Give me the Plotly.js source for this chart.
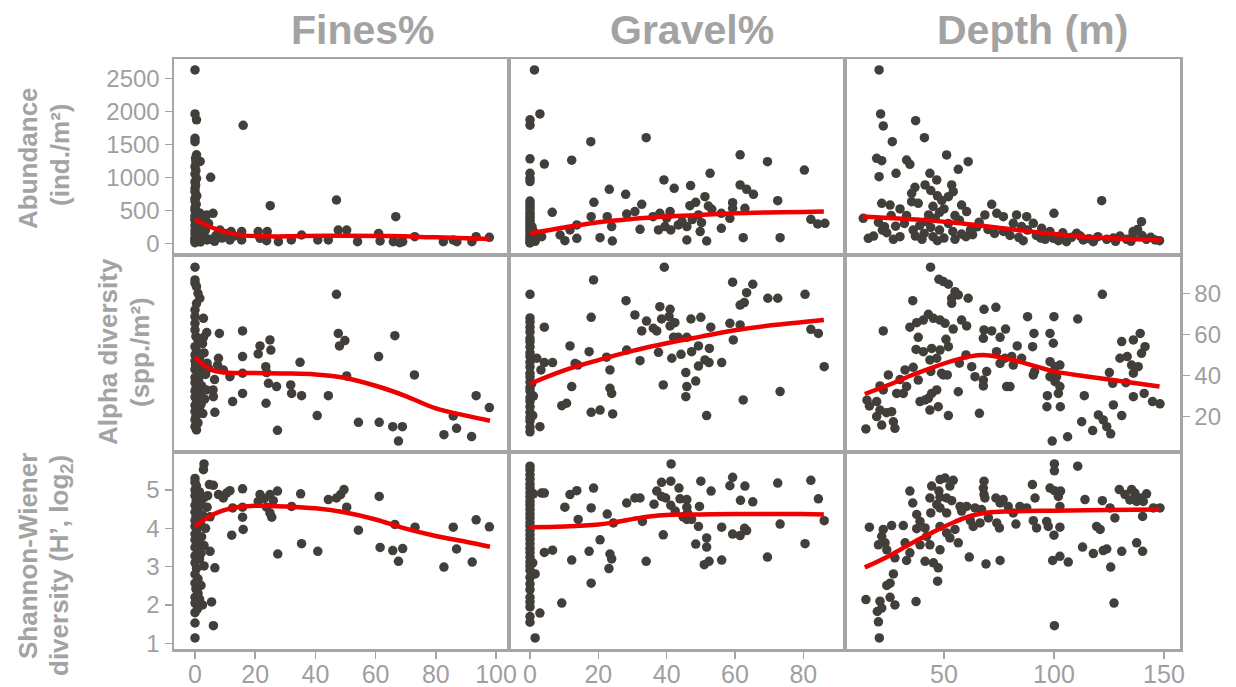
<!DOCTYPE html>
<html>
<head>
<meta charset="utf-8">
<script src="https://cdn.plot.ly/plotly-3.0.1.min.js"></script>
<style>html,body{margin:0;padding:0;background:#fff;}#chart{width:1236px;height:687px;}</style>
</head>
<body>
<div id="chart"></div>
<script>
// ---------- column / row labels ----------
const colTitles = ["Fines%", "Gravel%", "Depth (m)"];
const rowTitles = [
  ["Abundance", "(ind./m²)"],
  ["Alpha diversity", "(spp./m²)"],
  ["Shannon-Wiener", "diversity (H’, log<sub>2</sub>)"]
];
const xTicks = [[0,20,40,60,80,100],[0,20,40,60,80],[50,100,150]];
const yTicksAbund = [0,500,1000,1500,2000,2500];
const yTicksAlpha = [20,40,60,80];
const yTicksShannon = [1,2,3,4,5];

// ---------- Panel 1: Fines% vs Abundance ----------
const finesAbundX = [0,0,0.5,16,0,0,0.5,0.3,1.7,5.2, 6,3.9,25,47,66.7,8.3,12,15.5,11.6,15.5,
  21,21.6,24,23.8,27.7,32,35.4,40.8,44.3,47.6, 50.4,54,61,61.5,65.9,68,69,73,82.5,85.8,
  87,92,93.4,97.8,7,9,5,10,13,4.5,
  0,0.3,0,0.5,0,0.2,0,0,0.6,0, 0,0.4,1.5,0,0,0.8,0,0,1.2,0,
  0.5,2,0,0.3,1,0,2.5,0,1.5,0.5, 3,0,1,2,0,0.7,3.5,0,2.8,0, 1.8,0.2,4,6.5,3];
const finesAbundY = [2626,1960,1870,1788,1590,1540,1340,1240,1240,1000, 455,430,570,656,404,200,177,177,50,50,
  177,76,177,40,25,50,126,50,50,200, 200,25,150,35,25,10,25,100,25,50,
  25,25,100,90,120,80,60,150,110,300,
  1160,1100,1050,980,930,880,830,780,720,680, 640,590,460,540,500,450,420,380,330,350,
  300,280,270,250,230,200,170,150,130,110, 120,90,80,60,60,40,200,30,90,10, 20,1290,50,30,350];

// ---------- Panel 2: Gravel% vs Abundance ----------
const gravelAbundX = [1.3,2.9,0,0,17.8,34,0,4.2,12.2,0, 0,0,61.5,69.5,80.3,52.7,39.2,42.2,47,23.2,
  28,61.5,63.4,65.4,51.2,48.5,46.8,18.7,32.7,52.2, 53.2,59.3,59.3,62.9,72.5,6.5,17.9,22.6,28.3,30.7,
  36,38,41,49.3,56,58.5,13.7,23.9,32.2,37.6, 39.5,41.2,43.4,45.9,50.2,49.8,56,45.9,51.7,62.4,
  73.2,82.2,84.2,86.3,8.8,10.2,13.7,20.5,24.1,11.7, 2.4,3.4,44.5,40,47.5,
  0,0,0,0,0,0,0,0,0,0, 0,0,0,0,0,0,0,0,0.6,1, 0.5,1.5,0.8];
const gravelAbundY = [2626,1960,1870,1790,1540,1600,1280,1200,1260,1060, 985,935,1340,1237,1110,1060,960,833,874,818,
  742,884,818,742,707,621,570,621,590,565, 515,616,530,530,646,470,404,404,444,480,
  404,455,480,430,455,379,278,253,212,202, 253,202,278,253,313,177,227,50,35,86,
  86,364,293,303,126,40,76,86,35,202, 126,100,330,380,360,
  640,600,555,520,470,430,395,350,310,280, 240,205,170,130,95,60,25,5,250,180, 60,30,110];

// ---------- Panel 3: Depth vs Abundance ----------
const depthAbundX = [20.5,21.2,22.4,37.1,26.5,41.1,19.4,21.7,33,34.5, 51.2,61,56.5,20.5,28.2,43.6,46.7,36.8,35.3,41.4,
  53.5,54.2,52,21.7,25.5,35.3,38.3,58,60.3,71.7, 100,121.7,13.3,20.2,15.6,68.6,74,77,83,87.6,
  81.5,85.3,90.6,94.4,98.2,99.7,102.7,105.7,110.3,113.3, 117.9,
  44,47,49,45,50,48,43,55,57,46, 42,52,39,44,48,54,58,41,37,45,
  50,55,47,40,60,62,65,63,30,27, 24,22,18,28,32,36,33,30,26,23,
  66,70,73,77,80,84,88,92,96,102, 108,112,116,120,124,127,130,133,136,138,
  140,142,144,146,148,128,135,104,94,86, 139.8,136];
const depthAbundY = [2626,1960,1778,1858,1540,1600,1288,1252,1262,1197, 1338,1237,1121,1010,1060,1060,960,848,757,884,
  884,782,707,606,580,631,606,580,480,590, 454,646,379,318,76,430,455,404,430,404,
  303,253,303,227,177,76,100,25,151,50, 25,
  800,720,650,560,520,470,430,420,350,380, 330,300,270,240,200,180,140,150,110,100,
  80,60,40,60,100,200,250,130,100,60, 160,200,110,260,300,200,420,520,420,250,
  320,210,150,180,120,90,200,120,60,40, 90,110,70,100,60,80,110,60,140,210,
  120,60,90,50,40,30,30,160,80,40, 328,177];

// ---------- Panel 4: Fines% vs Alpha diversity ----------
const finesAlphaX = [47,47.6,49.8,48,66.4,21.6,24.9,25.2,21,15.8, 7.8,34.9,61,23.5,23.8,9.4,11.6,15.8,50.4,72.9,
  24.4,27.1,31.8,32.1,35.4,44.3,6.1,15.8,12.5,23.6, 6.6,40.6,27.4,54.3,61.2,65.7,68.9,67.6,82.7,86.9,
  85.8,91.9,93.4,97.8,3.9,8.1,15.8,7.5,6.5,6,
  0,0,0,0.5,1,1.6,0.5,0,0,2.8, 0,0,0.3,1,2.5,0,0.5,3,0,1.5,
  0,4,0.2,2,0,0.8,3.5,0,1.2,0, 2.2,0.4,0,1.8,0,3.2,0.6,0,1.4,0,
  2.6,0.3,0,1,0,0.5,2,3.8,4.5,2.8];
const finesAlphaY = [79.5,60.5,57,54.4,59.4,54.4,57.3,52.4,50.5,49.2, 48.4,46.4,49.2,44.3,41.4,42.7,39.4,41.1,39.8,40.3,
  36.2,34.6,35.4,31.3,30.2,30.2,29.7,31.3,27.3,26.5, 22.1,20.5,13.3,17.2,17.2,15.1,15.1,8.1,11.2,14.3,
  20.3,10.3,30.2,24.4,60.9,60.5,61.7,45,38,33,
  92.7,86.5,84.9,83.2,80,77.6,75,71.9,68.6,67.8, 65.4,62.2,59,57,55.5,54,52,51,50,48.5,
  47,46,45,44,43,41.5,40.5,39,38,36.5, 35,34,32.5,31,29.5,28.5,27,25.5,24,22.5,
  21.5,20,18.5,17,15.1,13.5,26,33,43.5,58.5];

// ---------- Panel 5: Gravel% vs Alpha diversity ----------
const gravelAlphaX = [39.3,18.6,0,59.3,65.2,63.4,62.7,61.5,69.6,72.5, 80.5,28.1,38,41,40.7,38.5,42.4,41,30.7,34.1,
  36.1,37.1,32.7,47.1,50,52.9,58.5,61.5,59.5,17.9, 4.2,42,43.4,45.9,49.3,52.5,47.3,44.2,41.5,37.6,
  32.2,28.3,11.7,17.3,22.4,14,13.2,6.6,4.2,2, 3.2,23.4,49.3,51.2,52.4,56.1,45.6,48.5,45.9,45.6,
  39,12.2,23.4,23.9,9.3,10.7,17.9,20.5,24.2,51.7, 62.4,73.2,82.2,84.4,86.1,2.9,
  0,0,0,0,0,0,0,0,0,0, 0,0,0,0,0,0,0,0,0,0, 0,0,0,0,0.8,1,0.5];
const gravelAlphaY = [92.7,86.5,79.5,85.4,84.4,80.3,75.5,74.3,77.6,77.6, 79.5,76.4,73.5,72.2,68.6,67.5,65.7,64.1,69.5,66.5,
  63,61.7,61.7,67.5,68.3,63.5,65.4,64.6,57.3,68.3, 63.5,58.6,58.6,58.6,54.4,53.2,51.6,50.3,48.4,51.3,
  47.2,52.4,54.4,51.6,48.9,45.1,45.9,46.3,46.3,48.4, 42.7,42.7,44.6,47.6,46.3,46.3,41.4,37.3,34.6,29.7,
  35.4,34.6,33.8,31.3,25.3,26.5,22.1,23.2,21.3,20.5, 28.1,32.2,62.5,60.5,44.3,15.1,
  68,66,63.5,61.2,58,56.4,53.9,51,49.2,46.5, 44.1,41,39.3,36.8,34.1,32.5,29.2,27.4,24.8,22.1, 19.6,17.8,14.9,12.6,20.5,30,36];

// ---------- Panel 6: Depth vs Alpha diversity ----------
const depthAlphaX = [43.9,47.7,49.7,52,55,56.5,53.5,53.5,61,35.8, 122,68.2,73.6,88,100,110.8,42.9,40.6,37.6,34.5,
  45.2,48.2,50.5,54.2,58,60.3,22.4,38.3,50.9,37.3, 40.6,44.4,48.2,46.7,43.6,68.2,71.7,75.5,67.9,78,
  90.9,98.2,90.3,99.7,83.3,73.9,75.5,81.5,85.3,80.8, 77.7,98.2,100.5,102.7,101.2,98.2,100.5,130.8,136.1,139.2,
  141.4,139.8,130,133.3,135.3,136.1,138.3,90.6,91.2,97, 102.7,102,96.8,102.9,62.6,64.1,67.9,67.9,69.4,78.5,
  80,56.5,66.1,49.7,51.5,48.9,38.3,32.3,33,28.5, 31.5,24.7,20.9,22.4,16.1,19.4,20.9,23.9,26.2,19.4,
  21.7,27,27.7,14.5,39.1,41.4,42.9,43.6,47.4,46.7, 44.4,52,113.8,112.6,117.6,120.2,122.4,124,125.8,99.2,
  106.2,127,130.8,125.2,126.7,132.7,136.1,141,144.8,148.2, 15,36,30,44,57,60,52];
const depthAlphaY = [92.7,86.8,85.7,84.4,80.8,79.2,77.6,75.1,77.6,76.4, 79.5,72.2,73.2,68.6,68.6,67.5,69.8,67,65.7,63.5,
  67.8,67,65.4,62.6,67,64.1,61.7,58.6,57.6,52.7, 51.6,53.2,52.4,48.4,47.6,62.2,61.7,58.6,58.1,62.6,
  60.5,60.5,54,55.7,54.4,51.6,45.9,45.1,48.4,49.2, 48.4,46.7,44.3,45.1,39.4,39.4,37,56.5,57.3,60.5,
  54,50.8,48.4,49.2,45.1,41.1,44.3,40.3,41.9,30.2, 34.6,31.3,24.8,24.8,44.3,39.4,37.8,34.9,41.9,34.6,
  34.6,32.1,21.6,40.3,40.3,41.1,37.8,42.7,34.6,31.3, 31.3,40.3,34.9,33,25.2,27.3,23.2,21.9,22.4,20,
  15.9,17.5,14.3,14,27.3,28.1,28.9,23.2,24.8,33, 31.3,20.5,30.2,17.5,13.2,20.8,18.4,15.1,11.6,8.1,
  10.2,25.7,20.5,41.4,36.2,36.5,29.7,31.3,27.3,26.2, 28,44,38,42,46,50,54];

// ---------- Panel 7: Fines% vs Shannon-Wiener ----------
const finesShanX = [3,2.8,4.8,6.1,15.8,7.8,9.4,11.6,10.5,21.6, 24.9,27.4,21,23.8,24.9,25.5,35.1,32.1,44.3,47,
  48.4,49.5,50.4,61.2,12.5,15.8,15.8,16,12.2,54.3, 66.4,73.1,85.8,93.4,97.8,35.4,40.8,27.5,61.5,65.7,
  69,67.6,86.9,92.1,82.7,6.6,6.1,0,23,26,
  0,0,0.5,0,1.5,0,3,0.4,2,0, 4,1,0,2.5,0.3,5,0,1.8,0,3.5,
  0.6,0,2.2,0,1.2,3,0,0.8,2,0, 1.5,0,3,0.5,0,1,0,2,0.3,0,
  1.5,0,2.5,0.8,0,5.5,0,1,4.2,5];
const finesShanY = [5.68,5.53,5.14,5.12,5.03,4.88,4.79,4.98,4.92,4.88, 4.88,4.97,4.7,4.55,4.4,4.29,4.9,4.57,4.75,4.79,
  4.88,5.01,4.55,4.83,4.53,4.55,4.29,3.97,3.82,3.95, 4.1,4.03,4.03,4.22,4.04,3.6,3.4,3.33,3.5,3.42,
  3.47,3.14,3.46,3.12,2.99,2.97,1.46,1.14,4.78,4.72,
  5.3,5.2,5.1,5.0,4.95,4.85,4.8,4.72,4.65,4.6, 4.55,4.5,4.42,4.35,4.28,4.3,4.2,4.12,4.05,4.0,
  3.95,3.85,3.78,3.7,3.62,3.55,3.5,3.42,3.35,3.28, 3.2,3.1,3.02,2.95,2.8,2.68,2.57,2.51,2.42,2.2,
  2.15,2.05,2.0,1.9,1.8,2.08,1.53,2.3,4.85,3.4];

// ---------- Panel 8: Gravel% vs Shannon-Wiener ----------
const gravelShanX = [0,0,41.3,38.5,41.2,43.6,50,53,59.3,62.9, 58.5,72.5,82.2,84.4,61.6,65.2,3.4,4.2,11.7,13.7,
  18.6,10.2,17.9,14.1,22.6,24.4,28.3,30.7,32.2,32.9, 36.3,37.1,38.5,39.7,41.2,43.9,45.9,45.9,46.1,45.9,
  47.3,49.6,49.3,39,20.5,17.3,17.9,12.2,4.2,6.6, 23.4,23.9,23.1,34,51.7,51.7,48.5,51,52.4,56.1,
  56.1,59.3,61.5,62.8,63.4,69.5,73.2,80.5,86.1,9.3, 2.9,1.5,1.5,42.5,44.8,
  0,0,0,0,0,0,0,0,0,0, 0,0,0,0,0,0,0,0,0,0, 0,0,0,0,0,0,0,0,0,0, 0,1,0.8];
const gravelShanY = [5.62,5.53,5.68,5.2,5.23,5.05,5.23,4.97,5.33,5.1, 5.11,5.18,5.25,4.77,4.73,4.69,4.92,4.92,4.88,4.98,
  5.05,4.55,4.53,4.23,4.37,4.14,4.66,4.79,4.79,4.18, 4.63,4.97,4.83,4.79,4.6,4.77,4.75,4.55,4.4,4.23,
  4.23,4.57,4.05,3.83,3.7,3.4,2.57,3.17,3.37,3.43, 3.33,3.2,2.95,3.14,3.75,3.51,3.59,3.05,3.14,3.17,
  4.03,3.85,3.81,4.0,3.94,3.25,4.11,3.6,4.2,2.05, 1.79,2.81,1.14,4.45,4.3,
  5.4,5.28,5.15,5.05,4.93,4.82,4.7,4.61,4.5,4.38, 4.27,4.15,4.06,3.94,3.83,3.72,3.6,3.48,3.37,3.25,
  3.13,3.02,2.9,2.72,2.55,2.4,2.2,2.08,1.95,1.7, 1.55,4.9,3.1];

// ---------- Panel 9: Depth vs Shannon-Wiener ----------
const depthShanX = [100.2,100.2,110.8,68.2,67.9,68.2,68.6,90.2,98.2,100.2, 103,102,102.7,129.7,132.3,135.3,136.8,139.1,142.1,134.5,
  137.6,140.6,114.1,122,91.4,145.2,148.2,140.3,127.7,125.5, 48.2,50.5,54.2,44.4,52.7,47.7,34.5,43.6,48.2,51.2,
  53.5,35.8,46.7,48.2,51.2,57.3,60.3,64.1,67.1,73.6, 76.9,75.5,79.2,81.5,84.5,87.6,70.2,74,75.2,82.7,
  90.6,92.1,96.7,97.4,102.7,100,37.6,39.1,41.4,37.6, 42.1,43.6,48.2,51.2,52.7,55,56.5,63.3,66.4,22.4,
  21.7,23.2,20.2,24,16.1,26.2,31.5,32.3,27.7,33, 34.5,39.1,41.4,45.2,48.2,47.4,47.1,61.5,69.1,75.5,
  99.4,102.7,106.5,113,117.9,122.4,124,130.8,137.6,140.3, 119.4,121,125.8,127.3,100.2,27,25.5,24,25.5,20.9,
  19.7,21.7,20.2,20.6,14.5,27.7,37.3,44,58,62];
const depthShanY = [5.68,5.5,5.62,5.23,5.05,4.88,4.79,5.14,5.05,4.98, 4.97,4.83,4.57,5.01,4.88,5.01,4.92,4.79,4.9,4.74,
  4.7,4.7,4.75,4.72,4.79,4.53,4.53,4.31,4.27,4.53, 5.27,5.31,5.25,5.1,5.1,4.97,4.97,4.79,4.81,4.79,
  4.72,4.66,4.62,4.53,4.4,4.57,4.57,4.53,4.49,4.79, 4.75,4.66,4.57,4.4,4.57,4.53,4.27,4.14,4.01,4.11,
  4.2,4.01,4.18,4.05,4.03,3.82,4.36,4.18,4.01,3.99, 3.79,3.57,4.05,3.88,3.75,3.97,3.62,4.05,4.14,3.97,
  3.79,3.62,3.57,3.44,4.03,4.07,4.07,3.62,3.23,3.16, 3.36,3.57,3.14,3.1,3.44,2.97,2.62,3.25,3.07,3.16,
  3.16,3.27,3.12,3.51,3.34,3.42,3.46,3.4,3.62,3.4, 4.05,3.97,2.99,2.05,1.46,2.81,2.57,2.51,2.2,2.1,
  1.83,1.92,1.56,1.14,2.14,2.0,2.09,4.4,4.45,4.2];

// ---------- smoothed trend lines ----------
const fitFinesAbundX = [0,4,8,12,16,25,35,50,65,80,98];
const fitFinesAbundY = [360,270,200,150,120,105,112,115,110,90,65];
const fitGravelAbundX = [0,10,20,30,40,50,60,70,80,86];
const fitGravelAbundY = [150,240,320,370,405,430,455,468,476,480];
const fitDepthAbundX = [13,25,40,55,70,85,100,115,130,149];
const fitDepthAbundY = [405,385,355,310,255,195,140,95,70,50];
const fitFinesAlphaX = [0,3,6,10,20,30,40,50,60,70,80,90,98];
const fitFinesAlphaY = [49,45,42.5,41.5,41.2,41,40.5,38.8,35,30,24,20.5,18];
const fitGravelAlphaX = [0,10,20,30,40,50,60,70,80,86];
const fitGravelAlphaY = [36,42.5,47.5,52,55.7,58.9,62,64.3,66,67];
const fitDepthAlphaX = [14,25,35,45,55,62,68,75,85,100,115,130,148];
const fitDepthAlphaY = [31,35.5,40,44,47.5,49.3,50,49,46.5,42,39.5,37.3,34.6];
const fitFinesShanX = [0,3,6,10,15,20,30,40,50,60,70,80,90,98];
const fitFinesShanY = [4.05,4.22,4.36,4.48,4.56,4.59,4.57,4.52,4.41,4.23,3.99,3.8,3.65,3.52];
const fitGravelShanX = [0,10,20,25,30,35,40,50,60,70,80,86];
const fitGravelShanY = [4.03,4.05,4.1,4.16,4.24,4.31,4.35,4.36,4.37,4.37,4.37,4.36];
const fitDepthShanX = [14,25,35,45,55,62,70,80,100,125,148];
const fitDepthShanY = [2.98,3.28,3.6,3.9,4.17,4.32,4.41,4.44,4.46,4.48,4.49];

// ---------- assemble ----------
const panels = [
  {px:finesAbundX, py:finesAbundY, fx:fitFinesAbundX, fy:fitFinesAbundY},
  {px:gravelAbundX, py:gravelAbundY, fx:fitGravelAbundX, fy:fitGravelAbundY},
  {px:depthAbundX, py:depthAbundY, fx:fitDepthAbundX, fy:fitDepthAbundY},
  {px:finesAlphaX, py:finesAlphaY, fx:fitFinesAlphaX, fy:fitFinesAlphaY},
  {px:gravelAlphaX, py:gravelAlphaY, fx:fitGravelAlphaX, fy:fitGravelAlphaY},
  {px:depthAlphaX, py:depthAlphaY, fx:fitDepthAlphaX, fy:fitDepthAlphaY},
  {px:finesShanX, py:finesShanY, fx:fitFinesShanX, fy:fitFinesShanY},
  {px:gravelShanX, py:gravelShanY, fx:fitGravelShanX, fy:fitGravelShanY},
  {px:depthShanX, py:depthShanY, fx:fitDepthShanX, fy:fitDepthShanY}
];

const W = 1236, H = 687;
const colPx = [[174,508],[509,844],[845,1180]];
const rowPx = [[59,254],[255,451],[452,649]];
const xRanges = [[-6.98,103.99],[-6.15,91.9],[5,157.3]];
const yRanges = [[-162,2792],[3.26,98.64],[0.852,5.99]];

const GRAY = '#a5a5a5';
const TICKC = '#9f9f9f';
const FONT = 'Liberation Sans, Arial, sans-serif';
const yTickFont = {family: FONT, size: 24, color: TICKC};
const xTickFont = {family: FONT, size: 25, color: TICKC};

const data = [];
const layout = {
  width: W, height: H,
  margin: {l:0, r:0, t:0, b:0},
  paper_bgcolor: '#fff', plot_bgcolor: '#fff',
  showlegend: false,
  annotations: []
};

panels.forEach((p, i) => {
  const r = Math.floor(i / 3), c = i % 3;
  const n = i + 1;
  const xa = 'x' + (n === 1 ? '' : n), ya = 'y' + (n === 1 ? '' : n);
  data.push({type:'scatter', mode:'markers', x:p.px, y:p.py, xaxis:xa, yaxis:ya,
    marker:{size:9.5, color:'#423f3b'}, hoverinfo:'skip', cliponaxis:true});
  data.push({type:'scatter', mode:'lines', x:p.fx, y:p.fy, xaxis:xa, yaxis:ya,
    line:{color:'#ee0000', width:4.5, shape:'spline', smoothing:1}, hoverinfo:'skip'});

  const showX = (r === 2);
  const xax = {
    domain: [colPx[c][0] / W, colPx[c][1] / W],
    range: xRanges[c], anchor: ya,
    showline: true, mirror: true, linecolor: GRAY, linewidth: 2.5,
    showgrid: false, zeroline: false, fixedrange: true,
    ticks: showX ? 'outside' : '', ticklen: 7, tickwidth: 1.5, tickcolor: GRAY,
    tickmode: 'array', tickvals: xTicks[c], ticktext: xTicks[c].map(String),
    showticklabels: showX, tickfont: xTickFont, ticklabelstandoff: -6
  };
  let yt = null, side = 'left', showY = false;
  if (r === 0 && c === 0) { yt = yTicksAbund; showY = true; }
  if (r === 1 && c === 2) { yt = yTicksAlpha; showY = true; side = 'right'; }
  if (r === 2 && c === 0) { yt = yTicksShannon; showY = true; }
  const yax = {
    domain: [1 - rowPx[r][1] / H, 1 - rowPx[r][0] / H],
    range: yRanges[r], anchor: xa, side: side,
    showline: true, mirror: true, linecolor: GRAY, linewidth: 2.5,
    showgrid: false, zeroline: false, fixedrange: true,
    ticks: showY ? 'outside' : '', ticklen: 7, tickwidth: 1.5, tickcolor: GRAY,
    tickmode: 'array', tickvals: yt || [], ticktext: (yt || []).map(String),
    showticklabels: showY, tickfont: yTickFont
  };
  layout['xaxis' + (n === 1 ? '' : n)] = xax;
  layout['yaxis' + (n === 1 ? '' : n)] = yax;
});

// column titles
const colTitleX = [363, 692, 1032];
colTitles.forEach((t, i) => {
  layout.annotations.push({text: t, xref:'paper', yref:'paper', x: colTitleX[i] / W, y: 1 - 30 / H,
    xanchor:'center', yanchor:'middle', showarrow:false,
    font:{family: FONT, size: 41, color: '#a3a3a3', weight: 'bold'}});
});
// row titles (two lines each, rotated)
const rowTitlePos = [
  [[28,158],[60,155]],
  [[108,352],[140,352]],
  [[28,556],[60,566]]
];
rowTitles.forEach((lines, r) => {
  lines.forEach((t, k) => {
    const [px, py] = rowTitlePos[r][k];
    layout.annotations.push({text: t, xref:'paper', yref:'paper', x: px / W, y: 1 - py / H,
      xanchor:'center', yanchor:'middle', textangle: -90, showarrow:false,
      font:{family: FONT, size: 26, color: '#a3a3a3', weight: 'bold'}});
  });
});

Plotly.newPlot('chart', data, layout, {staticPlot: true, displayModeBar: false});
</script>
</body>
</html>
